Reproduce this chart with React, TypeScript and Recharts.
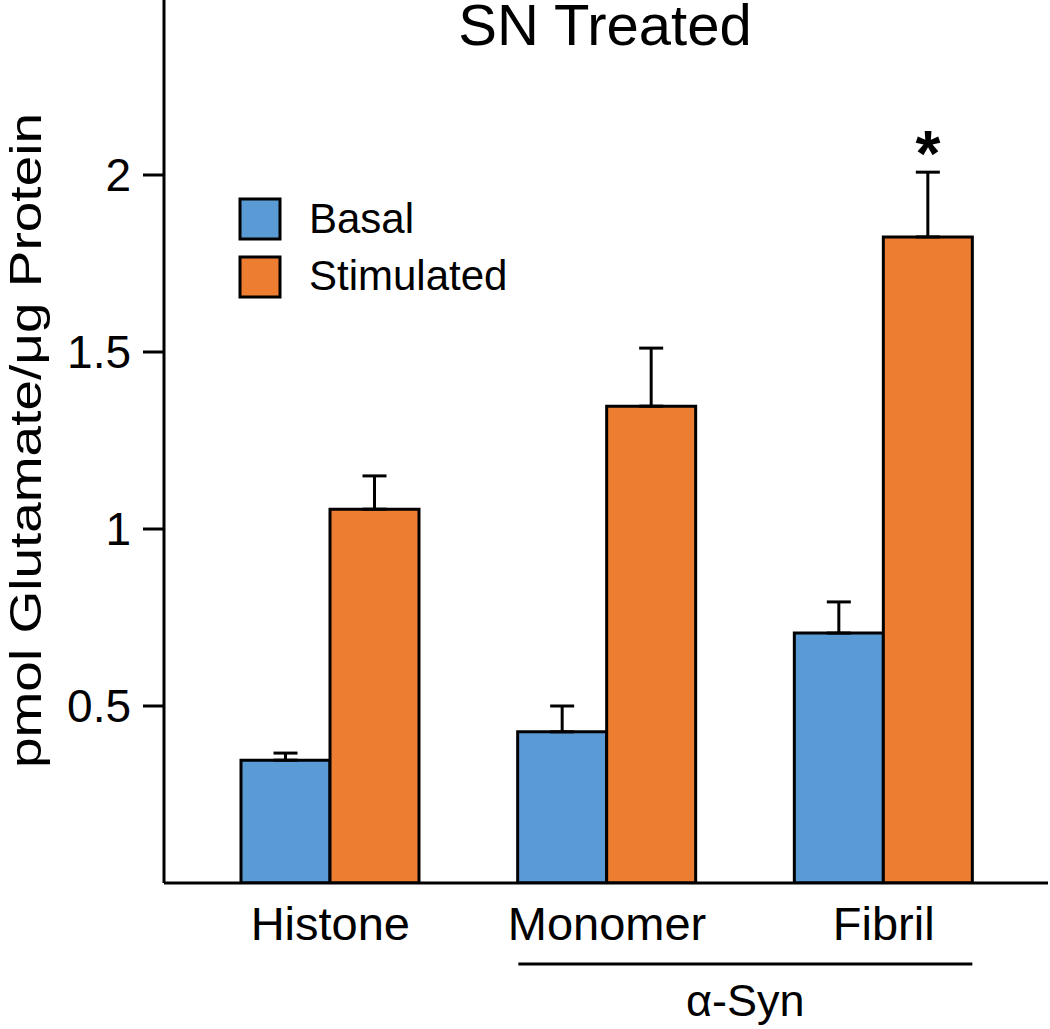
import React from 'react';
import { BarChart, Bar, XAxis, YAxis, ErrorBar, Legend, LabelList } from 'recharts';

const CATEGORIES = ['Histone', 'Monomer', 'Fibril'];
const BASAL = [0.347, 0.427, 0.706];
const BASAL_ERR = [0.02, 0.073, 0.088];
const STIM = [1.056, 1.347, 1.825];
const STIM_ERR = [0.094, 0.164, 0.183];
const SIG = ['', '', '*'];
const Y_TICKS = [0.5, 1, 1.5, 2];
const SERIES_NAMES = ['Basal', 'Stimulated'];
const COLORS = ['#5B9BD5', '#ED7D31'];
const TITLE = 'SN Treated';
const Y_LABEL = 'pmol Glutamate/\u03BCg Protein';
const GROUP_LABEL = '\u03B1-Syn';
const GROUP_END = 'Fibril';

const FONT = '"Liberation Sans", Arial, Helvetica, sans-serif';

const data = CATEGORIES.map((c, i) => ({
  name: c,
  basal: BASAL[i],
  basalErr: [0, BASAL_ERR[i]],
  stim: STIM[i],
  stimErr: [0, STIM_ERR[i]],
  sig: SIG[i],
}));

const XTick = (props: any) => {
  const { x, y, payload } = props;
  const half = payload && payload.offset ? payload.offset : 138.3;
  const isEnd = payload.value === GROUP_END;
  const mid = x - half;
  return (
    <g>
      <text x={x} y={y} dy="0.71em" textAnchor="middle" fontSize={47} fill="#000" fontFamily={FONT}>
        {payload.value}
      </text>
      {isEnd && (
        <g>
          <line x1={mid - 227} x2={mid + 227} y1={y + 57} y2={y + 57} stroke="#000" strokeWidth={3} />
          <text x={mid} y={y + 109} textAnchor="middle" fontSize={45} fill="#000" fontFamily={FONT}>
            {GROUP_LABEL}
          </text>
        </g>
      )}
    </g>
  );
};

const YLabel = (props: any) => {
  const vb = props.viewBox || { x: 0, y: 0, width: 164, height: 885 };
  const cx = vb.x + 41;
  const cy = vb.y + vb.height / 2;
  return (
    <text
      x={cx}
      y={cy}
      transform={`rotate(-90, ${cx}, ${cy})`}
      textAnchor="middle"
      fontSize={44}
      fill="#000"
      fontFamily={FONT}
      textLength={655}
      lengthAdjust="spacingAndGlyphs"
    >
      {Y_LABEL}
    </text>
  );
};

const SigLabel = (props: any) => {
  const { x, y, width, height, value, index } = props;
  if (!value) return null;
  const pxPerUnit = height / STIM[index];
  const errTop = y - STIM_ERR[index] * pxPerUnit;
  return (
    <text x={x + width / 2} y={errTop + 4} textAnchor="middle" fontSize={64} fontWeight="bold" fill="#000" fontFamily={FONT}>
      {value}
    </text>
  );
};

const LegendContent = (props: any) => {
  const payload = props.payload || [];
  return (
    <svg width={300} height={110}>
      {payload.map((p: any, i: number) => (
        <g key={i}>
          <rect x={3} y={3 + i * 58} width={40} height={40} fill={p.color} stroke="#000" strokeWidth={3} />
          <text x={72} y={37 + i * 57} fontSize={42} fill="#000" fontFamily={FONT}>
            {p.value}
          </text>
        </g>
      ))}
    </svg>
  );
};

export default function App() {
  return (
    <div style={{ position: 'absolute', left: 0, top: 0, width: 1050, height: 1029, background: '#fff' }}>
      <BarChart width={1050} height={1029} data={data} margin={{ top: -2, right: 2, left: 0, bottom: 0 }} barGap={0}>
        <XAxis
          dataKey="name"
          height={146}
          padding={{ left: 28, right: 26 }}
          axisLine={{ stroke: '#000', strokeWidth: 3 }}
          tickLine={false}
          tickSize={0}
          tickMargin={24}
          tick={<XTick />}
          interval={0}
        />
        <YAxis
          width={164}
          domain={[0, 2.5]}
          ticks={Y_TICKS}
          axisLine={{ stroke: '#000', strokeWidth: 3 }}
          tickLine={{ stroke: '#000', strokeWidth: 3 }}
          tickSize={21}
          tickMargin={12}
          tick={{ fontSize: 46, fill: '#000', fontFamily: FONT }}
          label={<YLabel />}
          allowDataOverflow
        />
        <Legend
          layout="vertical"
          align="center"
          verticalAlign="middle"
          content={<LegendContent />}
          wrapperStyle={{ left: 237, top: 196, width: 300, height: 110 }}
        />
        <Bar dataKey="basal" name={SERIES_NAMES[0]} fill={COLORS[0]} stroke="#000" strokeWidth={3} barSize={89} isAnimationActive={false}>
          <ErrorBar dataKey="basalErr" width={12} stroke="#000" strokeWidth={3} direction="y" />
        </Bar>
        <Bar dataKey="stim" name={SERIES_NAMES[1]} fill={COLORS[1]} stroke="#000" strokeWidth={3} barSize={89} isAnimationActive={false}>
          <ErrorBar dataKey="stimErr" width={12} stroke="#000" strokeWidth={3} direction="y" />
          <LabelList dataKey="sig" content={<SigLabel />} />
        </Bar>
      </BarChart>
      <svg width={1050} height={70} style={{ position: 'absolute', left: 0, top: 0, pointerEvents: 'none' }}>
        <text x={605} y={45} textAnchor="middle" fontSize={58} fill="#000" fontFamily={FONT}>
          {TITLE}
        </text>
      </svg>
    </div>
  );
}
